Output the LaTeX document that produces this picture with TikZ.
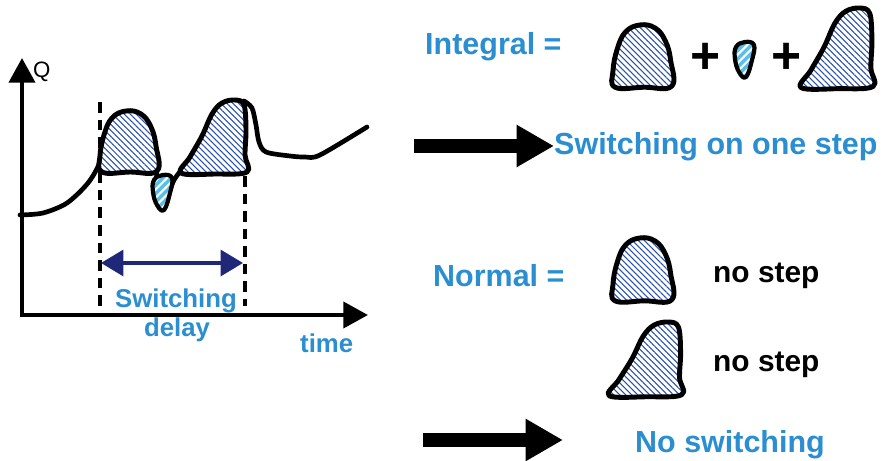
\documentclass[tikz,border=0pt]{standalone}
\usepackage{fontspec}
\setmainfont{Liberation Sans}
\usetikzlibrary{arrows.meta,patterns.meta}

\definecolor{labelblue}{RGB}{42,142,208}
\definecolor{hatchblue}{RGB}{40,80,168}
\definecolor{dropblue}{RGB}{90,190,234}
\definecolor{delaynavy}{RGB}{31,40,120}

% outlines of the areas, top left corner at (0,0), y going down
\newcommand{\humpleft}{plot[smooth cycle, tension=0.7] coordinates {(2,61) (0,45) (4,24) (12,7) (26,0) (41,3) (51,16) (56,35) (57,60) (30,61)}}
\newcommand{\humpright}{plot[smooth cycle, tension=0.6] coordinates {(1,73) (10,57) (22,36) (32,14) (42,3) (55,0) (64,5) (66,30) (65,55) (67,72) (35,74)}}
\newcommand{\dropshape}{plot[smooth cycle, tension=0.7] coordinates {(1,5) (10,0) (19,3) (17,18) (11,35) (4,30) (0,17)}}

\tikzset{
    area/.style={line width=4.2pt, line join=round, preaction={fill=white},
        pattern={Lines[angle=-45,distance=3.6pt,line width=0.9pt]}, pattern color=hatchblue},
    droparea/.style={line width=3.6pt, line join=round, preaction={fill=dropblue},
        pattern={Lines[angle=45,distance=5pt,line width=1.8pt]}, pattern color=white},
    curve/.style={line width=4pt, line cap=round},
    axis/.style={line width=3.8pt, -{Triangle[length=21pt,width=22pt]}},
    delay/.style={line width=2.8pt, delaynavy, {Triangle[length=19pt,width=22pt]}-{Triangle[length=19pt,width=22pt]}},
    marker/.style={line width=3.3pt, dash pattern=on 9pt off 6pt},
    blockarrow/.style={line width=12pt, -{Triangle[length=32pt,width=34pt]}},
    bluetext/.style={text=labelblue, font=\fontsize{26}{26}\selectfont\bfseries, inner sep=0pt, anchor=base west},
    graphtext/.style={text=labelblue, font=\fontsize{22}{22}\selectfont\bfseries, inner sep=0pt},
    steptext/.style={font=\fontsize{25.5}{26}\selectfont\bfseries, inner sep=0pt, anchor=base west},
    plustext/.style={font=\fontsize{44}{44}\selectfont\bfseries, inner sep=0pt}
}

\begin{document}
\begin{tikzpicture}[x=0.03cm, y=-0.03cm]
    \useasboundingbox (0,0) rectangle (883,461);

    % graph
    \coordinate (origin) at (20,315);
    \coordinate (ytop) at (22,58);
    \coordinate (xend) at (368,315);
    \draw[axis] (22,317) -- (ytop);
    \draw[axis] (20,315) -- (xend);
    \node[anchor=base west, inner sep=0pt, font=\fontsize{19}{19}\selectfont] (qlabel) at (33,78) {Q};
    \node[graphtext, anchor=base west] (timelabel) at (300,353) {time};

    \draw[marker] (100,102) -- (100,306);
    \draw[marker] (245,176) -- (245,306);

    \draw[curve] plot[smooth] coordinates {(20,215) (43,213) (67,203) (88,183) (100,162) (104,140)};
    \draw[curve] plot[smooth] coordinates {(156,165) (158,190) (162,208) (167,198) (174,180) (183,168)};
    \draw[curve] plot[smooth] coordinates {(244,101) (252,108) (256,125) (259,142) (266,152) (290,156) (305,157) (320,155) (367,127)};

    \draw[area, shift={(100,111)}] \humpleft;
    \draw[area, shift={(180,100)}] \humpright;
    \draw[droparea, shift={(153,175)}] \dropshape;

    \coordinate (delayleft) at (101,263);
    \coordinate (delayright) at (243,263);
    \draw[delay] (delayleft) -- (delayright);
    \node[graphtext, anchor=base] (switchlabel) at (176,308) {Switching};
    \node[graphtext, anchor=base] (delaylabel) at (177,337) {delay};

    % integral
    \node[bluetext] (integral) at (425,55) {Integral =};
    \draw[area, shift={(613,25)}, xscale=1.03, yscale=1.02] \humpleft;
    \node[plustext] (plusone) at (706,58) {+};
    \draw[droparea, shift={(735,42)}] \dropshape;
    \node[plustext] (plustwo) at (787,58) {+};
    \draw[area, shift={(800,8)}, xscale=1.09, yscale=1.09] \humpright;

    \node[bluetext] (onestep) at (554,155) {Switching on one step};
    \coordinate (arrowone) at (414,146);
    \draw[blockarrow] (arrowone) -- (arrowone -| onestep.west);

    % normal
    \node[bluetext] (normal) at (433,287) {Normal =};
    \draw[area, shift={(613,238)}, xscale=1.03, yscale=1.03] \humpleft;
    \node[steptext] (stepone) at (713,283) {no step};
    \draw[area, shift={(608,322)}, xscale=1.1, yscale=1.01] \humpright;
    \node[steptext] (steptwo) at (713,372) {no step};

    \coordinate (arrowtwo) at (423,440);
    \coordinate (arrowtwoend) at (563,440);
    \draw[blockarrow] (arrowtwo) -- (arrowtwoend);
    \node[bluetext] (noswitch) at (635,453) {No switching};
\end{tikzpicture}
\end{document}
